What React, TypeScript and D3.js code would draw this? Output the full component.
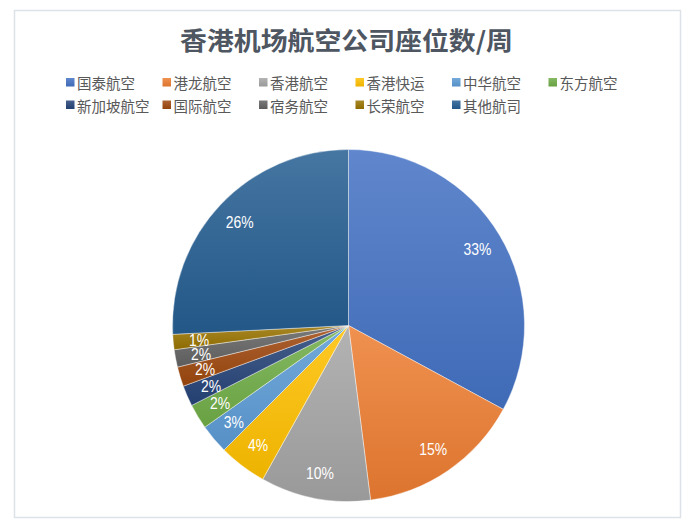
import React from 'react';
import * as d3 from 'd3';

// airline seat share per week (percent)
const airlines = [
  '国泰航空', '港龙航空', '香港航空', '香港快运', '中华航空', '东方航空',
  '新加坡航空', '国际航空', '宿务航空', '长荣航空', '其他航司',
];
const shares = [32.9, 15.1, 10.1, 4.4, 2.7, 2.3, 1.9, 1.8, 1.6, 1.4, 25.8];
const colors = [
  '#4472C4', '#ED7D31', '#A5A5A5', '#FFC000', '#5B9BD5', '#70AD47',
  '#264478', '#9E480E', '#636363', '#997300', '#255E91',
];
const title = '香港机场航空公司座位数/周';

const W = 696;
const H = 525;
const cx = 348.5;
const cy = 325.5;
const radius = 176;
const labelR = 150;

const cjk = '"Noto Sans CJK SC", "Noto Sans", sans-serif';

const App: React.FC = () => {
  const total = d3.sum(shares);
  const pie = d3.pie<number>().sort(null).value((d) => d);
  const arcs = pie(shares);
  const arc = d3.arc<d3.PieArcDatum<number>>().innerRadius(0).outerRadius(radius);
  const labelArc = d3.arc<d3.PieArcDatum<number>>().innerRadius(labelR).outerRadius(labelR);

  // legend columns
  const legendX = d3.scaleLinear().domain([0, 1]).range([66, 162.5]);
  const rowY = [82.5, 105];
  const perRow = 6;

  return (
    <svg width={W} height={H} style={{ position: 'absolute', left: 0, top: 0, background: '#fff' }}>
      <defs>
        {colors.map((c, i) => (
          <linearGradient key={i} id={`g${i}`} x1="0" y1="0" x2="0" y2="1">
            <stop offset="0" stopColor={d3.interpolateRgb(c, '#ffffff')(0.15)} />
            <stop offset="1" stopColor={d3.interpolateRgb(c, '#000000')(0.07)} />
          </linearGradient>
        ))}
      </defs>
      <rect x={14.5} y={10.5} width={666} height={507} fill="#fff" stroke="#dde1e8" strokeWidth={1.5} />

      <text
        x={346.5}
        y={38.5}
        textAnchor="middle"
        dominantBaseline="central"
        fontFamily={cjk}
        fontSize={25}
        fontWeight="bold"
        fill="#4e5662"
        textLength={333}
        lengthAdjust="spacingAndGlyphs"
      >
        {title}
      </text>

      <g>
        {airlines.map((name, i) => {
          const col = i % perRow;
          const row = Math.floor(i / perRow);
          const x = legendX(col);
          const y = rowY[row];
          return (
            <g key={name}>
              <rect x={x} y={y - 4.5} width={8.5} height={8.5} fill={`url(#g${i})`} />
              <text
                x={x + 11}
                y={y}
                dominantBaseline="central"
                fontFamily={cjk}
                fontSize={14.5}
                fill="#595959"
              >
                {name}
              </text>
            </g>
          );
        })}
      </g>

      <g transform={`translate(${cx},${cy})`}>
        {arcs.map((a, i) => (
          <path
            key={i}
            d={arc(a) || ''}
            fill={`url(#g${i})`}
            stroke="#ffffff"
            strokeOpacity={0.55}
            strokeWidth={0.75}
          />
        ))}
        {arcs.map((a, i) => {
          const [lx, ly] = labelArc.centroid(a);
          return (
            <text
              key={`l${i}`}
              transform={`translate(${lx},${ly}) scale(0.82,1)`}
              textAnchor="middle"
              dominantBaseline="central"
              fontFamily='"Liberation Sans", sans-serif'
              fontSize={17}
              fill="#ffffff"
            >
              {`${Math.round((a.data / total) * 100)}%`}
            </text>
          );
        })}
      </g>
    </svg>
  );
};

export default App;
